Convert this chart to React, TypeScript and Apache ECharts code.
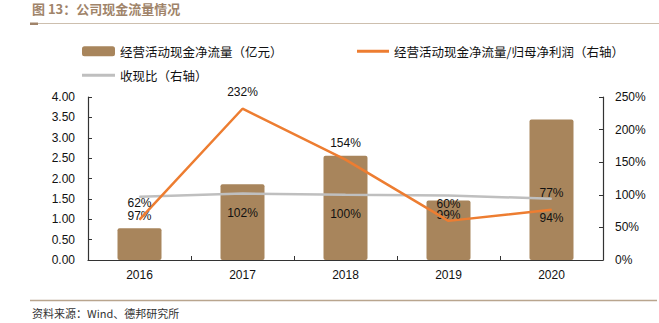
import React, { useEffect, useRef } from "react";
import * as echarts from "echarts";

const categories = ["2016", "2017", "2018", "2019", "2020"];
const cashFlow = [0.78, 1.86, 2.56, 1.46, 3.45];
const cashToProfit = [62, 232, 154, 60, 77];
const salesCashRatio = [97, 102, 100, 99, 94];

const barName = "经营活动现金净流量（亿元）";
const orangeName = "经营活动现金净流量/归母净利润（右轴）";
const grayName = "收现比（右轴）";

const NUM_FONT = "'Liberation Sans', Arial, sans-serif";
const CJK_FONT = "'Noto Sans CJK SC', sans-serif";

export default function App() {
  const ref = useRef<HTMLDivElement>(null);
  useEffect(() => {
    if (!ref.current) return;
    const chart = echarts.init(ref.current, undefined, { renderer: "svg" });
    const legendText = { fontFamily: CJK_FONT, fontSize: 12.5, color: "#111" };
    chart.setOption({
      animation: false,
      backgroundColor: "#fff",
      grid: { left: 88, right: 56, top: 97, bottom: 63 },
      legend: [
        {
          data: [{ name: barName, icon: "roundRect" }],
          left: 77, top: 40, itemWidth: 33, itemHeight: 10, itemGap: 6,
          textStyle: legendText,
        },
        {
          data: [{ name: orangeName, icon: "rect" }],
          left: 352, top: 40, itemWidth: 32, itemHeight: 3,
          textStyle: legendText,
        },
        {
          data: [{ name: grayName, icon: "rect" }],
          left: 77, top: 64, itemWidth: 33, itemHeight: 3,
          textStyle: legendText,
        },
      ],
      xAxis: {
        type: "category",
        data: categories,
        axisLine: { lineStyle: { color: "#333", width: 1.2 } },
        axisTick: { show: true, inside: true, length: 4, alignWithLabel: false, lineStyle: { color: "#333" } },
        axisLabel: { fontFamily: NUM_FONT, fontSize: 12, color: "#111", margin: 9 },
      },
      yAxis: [
        {
          type: "value", min: 0, max: 4, interval: 0.5,
          axisLine: { show: true, lineStyle: { color: "#333", width: 1.2 } },
          axisTick: { show: true, inside: true, length: 4, lineStyle: { color: "#333" } },
          splitLine: { show: false },
          axisLabel: { fontFamily: NUM_FONT, fontSize: 12, color: "#111", margin: 13, formatter: (v: number) => v.toFixed(2) },
        },
        {
          type: "value", min: 0, max: 250, interval: 50, position: "right",
          axisLine: { show: true, lineStyle: { color: "#333", width: 1.2 } },
          axisTick: { show: true, inside: true, length: 4, lineStyle: { color: "#333" } },
          splitLine: { show: false },
          axisLabel: { fontFamily: NUM_FONT, fontSize: 12, color: "#111", margin: 12, formatter: "{value}%" },
        },
      ],
      series: [
        {
          name: barName, type: "bar", data: cashFlow, barWidth: 44,
          itemStyle: { color: "#A8855C", borderRadius: 2 },
        },
        {
          name: orangeName, type: "line", yAxisIndex: 1, data: cashToProfit,
          symbol: "circle", symbolSize: 1, showSymbol: true, z: 4,
          lineStyle: { color: "#ED7D31", width: 2.5 },
          itemStyle: { color: "#ED7D31" },
          label: { show: true, position: "top", distance: 10, formatter: "{c}%", fontFamily: NUM_FONT, fontSize: 12, color: "#111" },
        },
        {
          name: grayName, type: "line", yAxisIndex: 1, data: salesCashRatio,
          symbol: "circle", symbolSize: 1, showSymbol: true, z: 3,
          lineStyle: { color: "#BFBFBF", width: 2.5 },
          itemStyle: { color: "#BFBFBF" },
          label: { show: true, position: "bottom", distance: 13, formatter: "{c}%", fontFamily: NUM_FONT, fontSize: 12, color: "#111" },
        },
      ],
      graphic: [
        {
          type: "text", left: 32, top: 2,
          style: { text: "图 13：公司现金流量情况", fontFamily: CJK_FONT, fontSize: 13, fontWeight: "bold", fill: "#A0846A" },
        },
        { type: "line", shape: { x1: 30, y1: 23.5, x2: 659, y2: 23.5 }, style: { stroke: "#CDBFAE", lineWidth: 1 } },
        { type: "rect", shape: { x: 30, y: 22.5, width: 8, height: 2.5 }, style: { fill: "#A0846A" } },
        { type: "line", shape: { x1: 30, y1: 300.5, x2: 657, y2: 300.5 }, style: { stroke: "#B9A58E", lineWidth: 1.5 } },
        {
          type: "text", left: 32, top: 307,
          style: { text: "资料来源：Wind、德邦研究所", fontFamily: CJK_FONT, fontSize: 11, fill: "#333" },
        },
      ],
    });
    return () => chart.dispose();
  }, []);
  return (
    <div
      ref={ref}
      style={{ position: "fixed", left: 0, top: 0, width: 659, height: 323 }}
    />
  );
}
